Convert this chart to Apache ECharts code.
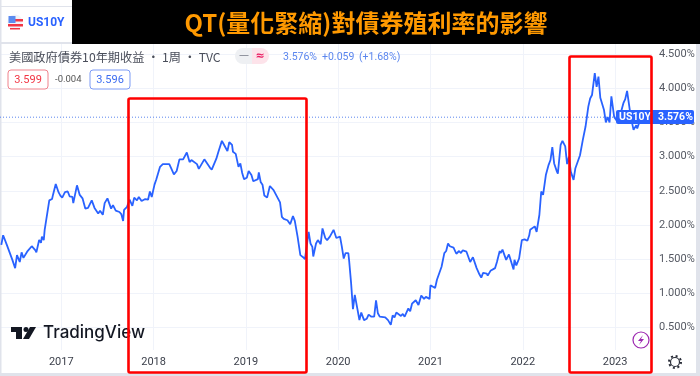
<!DOCTYPE html>
<html>
<head>
<meta charset="utf-8">
<style>
  html, body { margin: 0; padding: 0; background: #fff; }
  #chart { width: 700px; height: 376px; }
</style>
<script src="https://cdn.jsdelivr.net/npm/echarts@6/dist/echarts.min.js"></script>
</head>
<body>
<div id="chart"></div>
<script>
// decimal year of each point
const years = [
  2016.35, 2016.37, 2016.38, 2016.41, 2016.44, 2016.47, 2016.50, 2016.52, 2016.54, 2016.55, 2016.57, 2016.59,
  2016.63, 2016.65, 2016.68, 2016.70, 2016.72, 2016.73, 2016.76, 2016.78, 2016.79, 2016.81, 2016.82, 2016.87,
  2016.90, 2016.91, 2016.94, 2016.97, 2016.99, 2017.01, 2017.04, 2017.07, 2017.09, 2017.12, 2017.13, 2017.17,
  2017.20, 2017.23, 2017.25, 2017.26, 2017.29, 2017.33, 2017.36, 2017.38, 2017.40, 2017.42, 2017.45, 2017.47,
  2017.50, 2017.54, 2017.56, 2017.59, 2017.63, 2017.65, 2017.67, 2017.68, 2017.71, 2017.74, 2017.77, 2017.79,
  2017.81, 2017.82, 2017.84, 2017.87, 2017.91, 2017.94, 2017.96, 2017.98, 2018.01, 2018.03, 2018.05, 2018.07,
  2018.10, 2018.17, 2018.19, 2018.22, 2018.25, 2018.28, 2018.32, 2018.36, 2018.39, 2018.41, 2018.47, 2018.49,
  2018.51, 2018.55, 2018.57, 2018.61, 2018.63, 2018.68, 2018.70, 2018.72, 2018.74, 2018.76, 2018.78, 2018.80,
  2018.82, 2018.85, 2018.86, 2018.89, 2018.92, 2018.94, 2018.96, 2018.98, 2019.01, 2019.03, 2019.06, 2019.08,
  2019.13, 2019.14, 2019.16, 2019.18, 2019.20, 2019.23, 2019.26, 2019.28, 2019.30, 2019.32, 2019.37, 2019.39,
  2019.41, 2019.45, 2019.48, 2019.51, 2019.53, 2019.55, 2019.56, 2019.59, 2019.62, 2019.64, 2019.68, 2019.70,
  2019.72, 2019.73, 2019.76, 2019.78, 2019.81, 2019.83, 2019.86, 2019.88, 2019.91, 2019.93, 2019.95, 2019.98,
  2020.02, 2020.04, 2020.06, 2020.08, 2020.11, 2020.12, 2020.14, 2020.16, 2020.18, 2020.21, 2020.23, 2020.25,
  2020.28, 2020.31, 2020.33, 2020.36, 2020.39, 2020.41, 2020.43, 2020.45, 2020.51, 2020.54, 2020.57, 2020.59,
  2020.61, 2020.63, 2020.65, 2020.68, 2020.70, 2020.72, 2020.76, 2020.78, 2020.80, 2020.82, 2020.84, 2020.87,
  2020.89, 2020.90, 2020.93, 2020.95, 2020.99, 2021.00, 2021.05, 2021.07, 2021.09, 2021.12, 2021.15, 2021.17,
  2021.19, 2021.21, 2021.25, 2021.28, 2021.31, 2021.33, 2021.35, 2021.39, 2021.43, 2021.45, 2021.46, 2021.50,
  2021.53, 2021.55, 2021.57, 2021.61, 2021.62, 2021.65, 2021.70, 2021.72, 2021.73, 2021.75, 2021.76, 2021.78,
  2021.82, 2021.85, 2021.87, 2021.90, 2021.91, 2021.93, 2021.96, 2021.98, 2021.99, 2022.02, 2022.05, 2022.07,
  2022.08, 2022.10, 2022.13, 2022.15, 2022.18, 2022.20, 2022.22, 2022.25, 2022.28, 2022.30, 2022.32, 2022.34,
  2022.37, 2022.38, 2022.41, 2022.43, 2022.46, 2022.48, 2022.50, 2022.52, 2022.55, 2022.57, 2022.59, 2022.62,
  2022.65, 2022.68, 2022.71, 2022.73, 2022.75, 2022.78, 2022.80, 2022.82, 2022.84, 2022.85, 2022.88, 2022.90,
  2022.92, 2022.94, 2022.96, 2022.97, 2022.99, 2023.02, 2023.05, 2023.07, 2023.09, 2023.11, 2023.13, 2023.15,
  2023.17, 2023.20, 2023.23, 2023.24, 2023.26
]

// US10Y yield in percent, same order as years
const yields = [
  1.71, 1.85, 1.86, 1.71, 1.60, 1.49, 1.37, 1.56, 1.58, 1.46, 1.60, 1.52,
  1.61, 1.61, 1.69, 1.69, 1.63, 1.60, 1.78, 1.74, 1.83, 1.78, 1.93, 2.36,
  2.38, 2.44, 2.60, 2.48, 2.43, 2.40, 2.48, 2.49, 2.42, 2.41, 2.32, 2.58,
  2.44, 2.39, 2.39, 2.24, 2.25, 2.36, 2.25, 2.26, 2.17, 2.21, 2.15, 2.32,
  2.39, 2.24, 2.29, 2.21, 2.19, 2.16, 2.06, 2.22, 2.26, 2.37, 2.28, 2.40,
  2.41, 2.36, 2.41, 2.35, 2.38, 2.37, 2.49, 2.41, 2.59, 2.67, 2.67, 2.85,
  2.89, 2.89, 2.83, 2.74, 2.79, 2.96, 2.96, 3.06, 2.92, 2.95, 2.89, 2.82,
  2.83, 2.96, 2.96, 2.84, 2.81, 2.97, 3.06, 3.07, 3.23, 3.18, 3.19, 3.08,
  3.21, 3.17, 3.07, 3.04, 2.85, 2.90, 2.76, 2.67, 2.69, 2.79, 2.73, 2.64,
  2.67, 2.77, 2.63, 2.59, 2.43, 2.40, 2.57, 2.56, 2.51, 2.53, 2.33, 2.12,
  2.09, 2.07, 2.01, 2.13, 2.06, 2.07, 1.83, 1.56, 1.53, 1.50, 1.90, 1.73,
  1.68, 1.54, 1.73, 1.78, 1.72, 1.95, 1.81, 1.78, 1.83, 1.83, 1.93, 1.81,
  1.83, 1.68, 1.51, 1.59, 1.59, 1.46, 1.15, 0.77, 0.98, 0.76, 0.61, 0.72,
  0.61, 0.63, 0.69, 0.66, 0.66, 0.90, 0.71, 0.66, 0.65, 0.61, 0.54, 0.68,
  0.65, 0.72, 0.72, 0.67, 0.70, 0.66, 0.78, 0.74, 0.85, 0.83, 0.90, 0.83,
  0.85, 0.97, 0.92, 0.95, 0.92, 1.12, 1.08, 1.20, 1.22, 1.39, 1.59, 1.62,
  1.73, 1.69, 1.67, 1.58, 1.62, 1.59, 1.63, 1.61, 1.46, 1.46, 1.53, 1.37,
  1.28, 1.23, 1.30, 1.29, 1.26, 1.33, 1.37, 1.46, 1.47, 1.62, 1.59, 1.64,
  1.49, 1.57, 1.55, 1.35, 1.49, 1.41, 1.51, 1.51, 1.78, 1.79, 1.77, 1.85,
  1.93, 1.94, 1.98, 1.90, 2.15, 2.49, 2.44, 2.73, 2.88, 2.95, 3.14, 2.90,
  2.78, 2.75, 3.17, 3.23, 3.15, 2.89, 3.00, 2.78, 2.66, 2.83, 2.84, 3.02,
  3.24, 3.44, 3.73, 3.85, 3.90, 4.22, 4.02, 4.17, 3.86, 3.84, 3.68, 3.50,
  3.58, 3.50, 3.88, 3.89, 3.58, 3.52, 3.54, 3.68, 3.78, 3.84, 3.96, 3.96,
  3.58, 3.39, 3.46, 3.41, 3.49
]

const yearTicks = [2017, 2018, 2019, 2020, 2021, 2022, 2023]
const yieldTicks = [0.5, 1, 1.5, 2, 2.5, 3, 3.5, 4, 4.5]
const lastYield = 3.576

const BLUE = '#2962ff'
const RED = '#ff0000'
const FONT = 'Roboto, "Noto Sans CJK TC", sans-serif'
const X_MIN = 2016.336
const X_MAX = 2023.4

const chart = echarts.init(document.getElementById('chart'))

function label(x, y, text, fill, size, extra, z) {
  return {
    type: 'text', x, y, z: z || 20,
    style: Object.assign({ text, fill, font: `${size}px ${FONT}`, verticalAlign: 'middle' }, extra)
  }
}

const graphics = [
  // page frame
  { type: 'rect', z: 1, shape: { x: 0, y: 0, width: 1.5, height: 376 }, style: { fill: '#e0e3eb' } },
  { type: 'rect', z: 1, shape: { x: 696, y: 44, width: 4, height: 332 }, style: { fill: '#e0e3eb' } },
  { type: 'rect', z: 1, shape: { x: 0, y: 373, width: 700, height: 3 }, style: { fill: '#e0e3eb' } },
  { type: 'rect', z: 1, shape: { x: 0, y: 6, width: 72, height: 1 }, style: { fill: '#e0e3eb' } },
  { type: 'rect', z: 1, shape: { x: 0, y: 42, width: 72, height: 2 }, style: { fill: '#e0e3eb' } },

  // title bar
  { type: 'rect', z: 10, shape: { x: 72, y: 0, width: 628, height: 44 }, style: { fill: '#000' } },
  { type: 'text', x: 366, y: 23, z: 11, style: {
    text: 'QT(量化緊縮)對債券殖利率的影響', fill: '#ff9900',
    font: 'bold 24px "Noto Sans CJK TC", sans-serif', align: 'center', verticalAlign: 'middle'
  } },

  // flag and ticker
  { type: 'circle', z: 12, shape: { cx: 15, cy: 22, r: 7.5 }, style: { fill: '#f0f3fa' } },
  { type: 'rect', z: 13, shape: { x: 8, y: 24, width: 15, height: 2.5 }, style: { fill: '#f23645' } },
  { type: 'rect', z: 13, shape: { x: 15, y: 19, width: 8, height: 2.5 }, style: { fill: '#f23645' } },
  { type: 'rect', z: 13, shape: { x: 10, y: 28, width: 10, height: 1.5 }, style: { fill: '#f23645' } },
  { type: 'rect', z: 13, shape: { x: 8.5, y: 16, width: 7, height: 7 }, style: { fill: '#5b8bf0' } },
  label(28, 22.5, 'US10Y', BLUE, 12, { font: `bold 12px ${FONT}` }),

  // legend rows
  label(9, 57, '美國政府債券10年期收益 · 1周 · TVC', '#4a4e5a', 12, { font: '12.2px "Noto Sans CJK TC", sans-serif' }),
  { type: 'rect', z: 20, shape: { x: 235, y: 48, width: 18, height: 16, r: [8, 0, 0, 8] }, style: { fill: '#eef0f3' } },
  { type: 'rect', z: 20, shape: { x: 252, y: 48, width: 17, height: 16, r: [0, 8, 8, 0] }, style: { fill: '#fde3ea' } },
  label(244, 56, '—', '#8a8e99', 9, { align: 'center', font: 'bold 9px sans-serif' }),
  label(260, 56, '≈', '#e91e63', 11, { align: 'center', font: 'bold 11px "DejaVu Sans"' }),
  label(283, 57, '3.576%', '#5b86ee', 10.5),
  label(322, 57, '+0.059', '#5b86ee', 10.5),
  label(359, 57, '(+1.68%)', '#5b86ee', 10.5),
  { type: 'rect', z: 20, shape: { x: 8, y: 70, width: 40, height: 19, r: 3 }, style: { fill: '#fff', stroke: '#f0828c', lineWidth: 1 } },
  label(28, 80, '3.599', '#f23645', 11, { align: 'center' }),
  label(55, 80, '-0.004', '#555', 9.5),
  { type: 'rect', z: 20, shape: { x: 90, y: 70, width: 40, height: 19, r: 3 }, style: { fill: '#fff', stroke: '#7c9bf5', lineWidth: 1 } },
  label(110, 80, '3.596', '#3d6df0', 11, { align: 'center' }),

  // TradingView watermark
  { type: 'polygon', z: 20, shape: { points: [[11, 327], [22, 327], [22, 339], [16, 339], [16, 332], [11, 332]] }, style: { fill: '#131722' } },
  { type: 'circle', z: 20, shape: { cx: 26, cy: 329.5, r: 2.5 }, style: { fill: '#131722' } },
  { type: 'polygon', z: 20, shape: { points: [[30, 327], [36, 327], [29, 339], [23, 339]] }, style: { fill: '#131722' } },
  label(43, 333, 'TradingView', '#131722', 17, { font: '500 17px Inter, sans-serif' }),

  // lightning badge
  { type: 'circle', z: 20, shape: { cx: 641, cy: 340, r: 8 }, style: { fill: '#fff', stroke: '#9c27b0', lineWidth: 1.2 } },
  { type: 'polygon', z: 21, shape: { points: [[643, 335], [638, 341], [641, 341], [639, 345], [644, 339], [641, 339]] }, style: { fill: '#9c27b0' } },

  // settings gear
  { type: 'circle', z: 20, shape: { cx: 675, cy: 362, r: 4.5 }, style: { fill: '#fff', stroke: '#2a2e39', lineWidth: 1.2 } },
  { type: 'circle', z: 19, shape: { cx: 675, cy: 362, r: 6 }, style: { fill: 'none', stroke: '#2a2e39', lineWidth: 2, lineDash: [2, 2.7] } },

  // last price tags
  { type: 'rect', z: 22, shape: { x: 616, y: 110, width: 78, height: 14, r: 2 }, style: { fill: '#2962ff' } },
  label(619, 117.5, 'US10Y', '#fff', 10.5, { font: `bold 10.5px ${FONT}` }, 23),
  label(658, 117.5, '3.576%', '#fff', 10.5, { font: `bold 10.5px ${FONT}` }, 23),

  // highlight boxes
  { type: 'rect', z: 30, shape: { x: 128.5, y: 98.5, width: 178, height: 274, r: 1.5 }, style: { fill: 'none', stroke: RED, lineWidth: 2.6 } },
  { type: 'rect', z: 30, shape: { x: 569.5, y: 56.5, width: 82, height: 316, r: 1.5 }, style: { fill: 'none', stroke: RED, lineWidth: 2.6 } }
]

chart.setOption({
  animation: false,
  backgroundColor: '#fff',
  textStyle: { fontFamily: FONT },
  grid: { left: 0, right: 48, top: 44, bottom: 26 },
  xAxis: {
    type: 'value',
    min: X_MIN,
    max: X_MAX,
    axisLine: { show: false },
    axisTick: { show: false, customValues: yearTicks },
    axisLabel: {
      customValues: yearTicks,
      color: '#3c404b',
      fontSize: 11,
      margin: 7,
      formatter: v => String(v)
    },
    splitLine: { show: true, lineStyle: { color: '#f0f3fa', width: 1 } }
  },
  yAxis: {
    type: 'value',
    position: 'right',
    min: 0.173,
    max: 4.646,
    axisLine: { show: false },
    axisTick: { show: false, customValues: yieldTicks },
    axisLabel: {
      customValues: yieldTicks,
      color: '#555963',
      fontSize: 11,
      margin: 7,
      padding: [2, 0, 0, 0],
      formatter: v => v.toFixed(3) + '%'
    },
    splitLine: { show: true, lineStyle: { color: '#f0f3fa', width: 1 } }
  },
  series: [
    {
      // last price guide
      type: 'line',
      data: [[X_MIN, lastYield], [X_MAX, lastYield]],
      showSymbol: false,
      silent: true,
      lineStyle: { color: '#5b86ee', type: [1, 2], width: 1 },
      itemStyle: { color: '#5b86ee' }
    },
    {
      type: 'line',
      data: years.map((y, i) => [y, yields[i]]),
      showSymbol: false,
      lineStyle: { color: BLUE, width: 1.8 },
      itemStyle: { color: BLUE }
    }
  ],
  graphic: graphics
})

window.addEventListener('resize', () => chart.resize())
</script>
</body>
</html>
